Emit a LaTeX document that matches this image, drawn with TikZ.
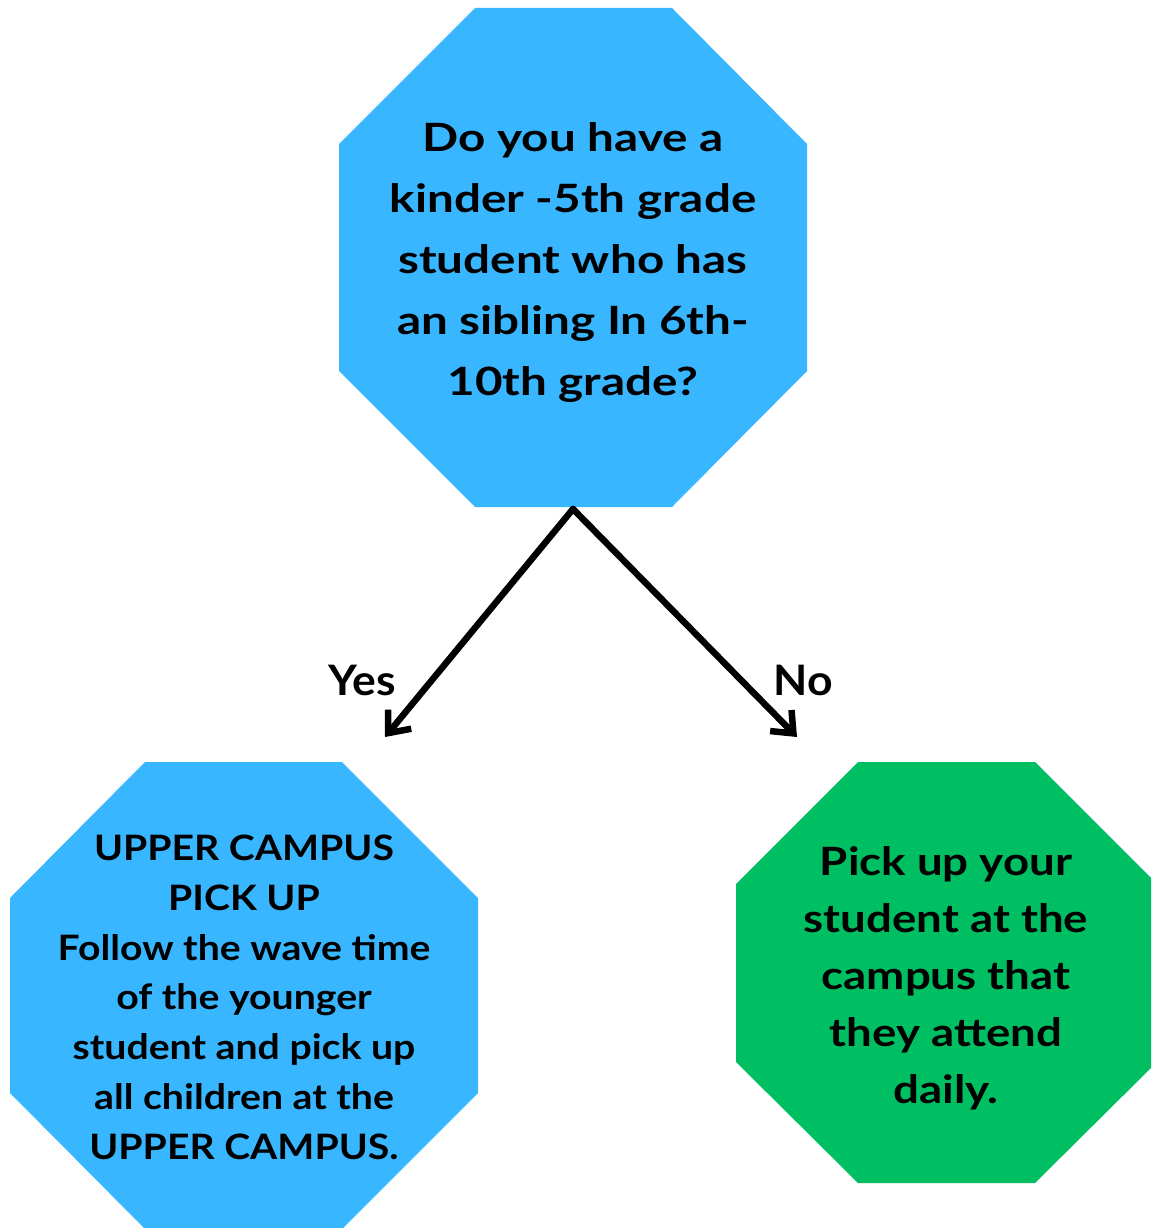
\documentclass[tikz,border=0pt]{standalone}
\usepackage{fontspec}
\setmainfont{Lato}
\newfontfamily\topfont{Lato}[FakeStretch=1.22]
\newfontfamily\leftfont{Lato}[FakeStretch=1.12]
\newfontfamily\rightfont{Lato}[FakeStretch=1.17]
\newfontfamily\labfont{Lato}[FakeStretch=1.06]
\usetikzlibrary{arrows.meta}
\definecolor{skyblue}{HTML}{38B6FF}
\definecolor{okgreen}{HTML}{00BF63}
\tikzset{
  octtext/.style={anchor=north, align=center, inner sep=0pt, text=black},
  branch/.style={line width=6.5pt, -{Straight Barb[length=18pt,width=30pt,line width=6.5pt]}, line cap=round, line join=miter},
  lbl/.style={anchor=base, inner sep=0pt, font=\labfont\fontsize{42}{50}\selectfont\bfseries}
}
\begin{document}
\begin{tikzpicture}[x=1pt,y=-1pt]
\useasboundingbox (0,0) rectangle (1151,1228);
\fill[white] (0,0) rectangle (1151,1228);
\clip (0,0) rectangle (1151,1228);
% octagons
\fill[skyblue] (475,8) -- (672,8) -- (807,144) -- (807,371) -- (672,507) -- (475,507) -- (339,371) -- (339,144) -- cycle;
\fill[skyblue] (145,762) -- (342,762) -- (478,898) -- (478,1093) -- (342,1229) -- (145,1229) -- (10,1093) -- (10,898) -- cycle;
\fill[okgreen] (858,762) -- (1035,762) -- (1157,884) -- (1157,1062) -- (1035,1183) -- (858,1183) -- (736,1062) -- (736,884) -- cycle;
% texts
\node[octtext, font=\topfont\fontsize{39}{61}\selectfont\bfseries] (q) at (573,122)
  {Do you have a\\kinder -5th grade\\student who has\\an sibling In 6th-\\10th grade?};
\node[octtext, font=\leftfont\fontsize{35}{49.7}\selectfont\bfseries] (yesbox) at (244,835)
  {UPPER CAMPUS\\PICK UP\\Follow the wave time\\of the younger\\student and pick up\\all children at the\\UPPER CAMPUS.};
\node[octtext, font=\rightfont\fontsize{39}{57}\selectfont\bfseries] (nobox) at (946,846)
  {Pick up your\\student at the\\campus that\\they attend\\daily.};
% connectors
\coordinate (apex) at (573,509);
\coordinate (ytip) at (385,737);
\coordinate (ntip) at (797,737);
\draw[branch] (apex) -- (ytip);
\draw[branch] (apex) -- (ntip);
\node[lbl] (ylab) at (362.5,695) {Yes};
\node[lbl] (nlab) at (803,695) {No};
\end{tikzpicture}
\end{document}
